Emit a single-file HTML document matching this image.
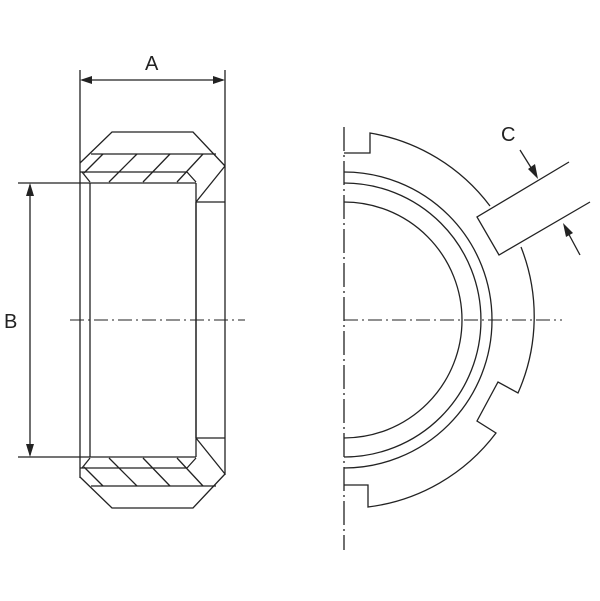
<!DOCTYPE html>
<html><head><style>body{margin:0;background:#fff}svg{display:block}</style></head><body>
<svg width="600" height="601" viewBox="0 0 600 601" xmlns="http://www.w3.org/2000/svg">
<defs>
<g id="half" fill="none" stroke="#222" stroke-width="1.3">
<polyline points="80,163 112,132 193,132 225,166"/>
<line x1="91" y1="154" x2="216" y2="154"/>
<line x1="80" y1="172" x2="187" y2="172"/>
<line x1="187" y1="172" x2="196" y2="182"/>
<line x1="82" y1="172" x2="90" y2="182"/>
<line x1="225" y1="166" x2="196" y2="202"/>
<line x1="196" y1="202" x2="225" y2="202"/>
<line x1="103" y1="154" x2="84" y2="173"/>
<line x1="137" y1="154" x2="109" y2="182"/>
<line x1="170" y1="154" x2="143" y2="182"/>
<line x1="203" y1="154" x2="177" y2="182"/>
<line x1="18" y1="183" x2="196" y2="183"/>
</g>
</defs>
<use href="#half"/>
<use href="#half" transform="translate(0,640) scale(1,-1)"/>
<g fill="none" stroke="#222" stroke-width="1.3">
<line x1="80" y1="70" x2="80" y2="478"/>
<line x1="225" y1="70" x2="225" y2="475"/>
<line x1="90" y1="183" x2="90" y2="457"/>
<line x1="196" y1="183" x2="196" y2="457"/>
<line x1="196" y1="202" x2="196" y2="438"/>
<line x1="82" y1="80" x2="223" y2="80"/>
<line x1="30" y1="185" x2="30" y2="455"/>
<line x1="70" y1="320" x2="245" y2="320" stroke-dasharray="14,4,2,4" stroke-width="1"/>
<line x1="344" y1="320" x2="562" y2="320" stroke-dasharray="14,4,2,4" stroke-width="1"/>
<line x1="344" y1="127" x2="344" y2="550" stroke-dasharray="24,4,2,4" stroke-width="1.3"/>
<path d="M344,202 A118,118 0 0 1 344,438"/>
<path d="M344,183 A137,137 0 0 1 344,457"/>
<path d="M344,172 A148,148 0 0 1 344,468"/>
<path d="M344,153 L370,153 L370,133 A189,189 0 0 1 490,206"/>
<path d="M521,247 A189,189 0 0 1 518,393 L498,382 L477,421 L496,433 A189,189 0 0 1 368,507 L368,485 L344,485"/>
<path d="M569,162 L477,217 L499,255 L590,202"/>
<line x1="520" y1="150" x2="535" y2="174"/>
<line x1="580" y1="255" x2="566" y2="229"/>
</g>
<g fill="#222">
<polygon points="80,80 92,76 92,84"/>
<polygon points="225,80 213,76 213,84"/>
<polygon points="30,183 26,196 34,196"/>
<polygon points="30,457 26,444 34,444"/>
<polygon points="538,179 528,169 535,164"/>
<polygon points="563,223 573,233 566,237"/>
</g>
<g font-family="Liberation Sans, sans-serif" font-size="20" fill="#222">
<text x="145" y="70">A</text>
<text x="4" y="328">B</text>
<text x="501" y="141">C</text>
</g>
</svg>
</body></html>
